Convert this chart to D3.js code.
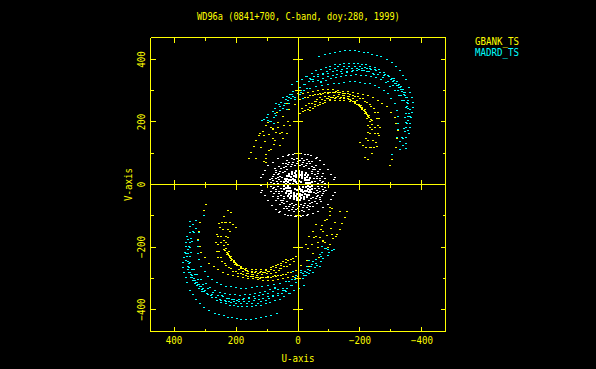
<!DOCTYPE html>
<html><head><meta charset="utf-8"><title>WD96a</title>
<script src="https://cdn.jsdelivr.net/npm/d3@7"></script>
<style>html,body{margin:0;padding:0;background:#000;overflow:hidden}svg{display:block}
text{font-family:"DejaVu Sans Mono",monospace;fill:#ff0}</style></head><body><div id="chart"></div>
<script>
const titleText = "WD96a (0841+700, C-band, doy:280, 1999)";
const xLabel = "U-axis";
const yLabel = "V-axis";
const seriesNames = ["GBANK_TS", "MADRD_TS"];
const majorTicks = [400, 200, -200, -400];
const minorTicks = [300, 100, -100, -300];

// Upper half of the uv coverage, [u, v] in the units of the axes.
// The lower half of the plane is the conjugate (-u, -v) of these tracks.
const madridArcA = [[-68,412],[-86,418],[-102,422],[-118,425],[-134,427],[-153,429],[-167,429],[-183,429],[-197,428],[-212,425],[-226,423],[-240,418],[-255,414],[-269,410],[-287,401],[-302,391],[-317,378],[-328,367],[-339,351],[-349,338],[-358,313],[-363,297],[-369,281],[-371,265],[-371,247],[-368,233],[-365,215],[-362,185],[-358,164],[-350,132],[-349,116]];
const madridArcB = [[-14,337],[-29,348],[-45,358],[-59,365],[-75,370],[-89,376],[-104,380],[-118,384],[-134,386],[-150,387],[-164,388],[-180,388],[-194,388],[-207,386],[-220,384],[-233,380],[-247,376],[-261,369],[-276,361],[-290,351],[-304,339],[-317,326],[-330,311],[-341,296],[-349,281],[-356,262],[-360,241],[-362,219],[-360,198],[-355,174],[-349,153],[-339,126],[-328,112]];
const madridArcC = [[117,207],[96,224],[75,245],[55,265],[35,283],[15,300],[-5,312],[-20,320],[-35,330],[-48,337],[-65,346],[-81,352],[-97,358],[-113,363],[-126,365],[-143,369],[-159,371],[-175,372],[-190,373],[-207,373],[-222,372],[-236,369],[-253,365],[-266,361],[-280,354],[-293,346],[-309,333],[-323,319],[-333,305],[-344,287],[-352,265],[-355,244],[-355,219],[-352,196],[-345,172],[-339,148]];
const madridArcD = [[88,202],[70,222],[50,245],[30,262],[10,280],[-10,295],[-30,310],[-48,330],[-65,335],[-81,340],[-97,346],[-113,349],[-126,354],[-143,358],[-159,359],[-175,362],[-190,365],[-207,365],[-222,363],[-242,358],[-258,352],[-274,343],[-290,330],[-306,319],[-323,303],[-333,287],[-341,271],[-347,247],[-349,228],[-347,201],[-341,180],[-335,153],[-328,139]];
const madridArcE = [[-75,327],[-91,335],[-108,339],[-124,345],[-140,348],[-156,350],[-172,351],[-188,352],[-204,351],[-220,350],[-236,348],[-253,343],[-267,338],[-283,327],[-298,316],[-312,303],[-326,287],[-336,269]];
const madridArcF = [[111,210],[77,216],[59,239],[46,255],[32,271],[16,284],[0,294],[-18,303],[-38,309],[-59,316],[-78,319],[-97,322],[-116,324],[-132,326],[-150,328],[-167,330],[-183,330],[-199,328],[-215,326],[-231,324],[-247,319],[-261,311],[-276,303],[-290,292],[-301,276],[-312,260],[-319,239],[-323,219],[-323,198],[-322,177],[-319,153],[-315,119],[-303,97]];
const madridExtra = [[89,202],[77,197],[75,230],[72,261],[48,281],[25,288],[22,277],[11,274],[18,320],[2,331],[-25,347],[-43,336],[-50,331],[-75,331],[-22,320],[-11,302],[-5,288],[-16,277],[37,240],[43,261],[11,256]];
const madridDense = [[-300,338],[-306,330],[-312,324],[-318,318],[-325,312],[-331,306],[-337,298],[-343,290],[-310,340],[-318,330],[-326,322],[-334,314],[-340,304],[-346,296],[-352,280],[-356,270],[-352,250],[-358,230],[-354,205],[-350,185],[-362,240],[-346,216],[-130,378],[-148,378],[-166,380],[-184,378],[-200,378],[-216,376],[-232,372],[-248,368],[-264,360],[-278,350],[-140,362],[-158,364],[-176,366],[-196,368],[-214,366],[-230,362],[-244,352],[-120,372],[-104,368],[-92,362],[-80,358],[-66,352],[-52,346],[-40,340],[100,215],[82,236],[62,256],[40,272],[20,290],[96,205],[58,250],[30,280]];

const gbankArcA = [[159,85],[143,123],[124,165],[98,201],[69,233],[36,262],[0,292],[-16,294],[-32,297],[-48,300],[-65,303],[-81,305],[-97,305],[-113,305],[-129,303],[-145,300],[-161,298],[-177,296],[-194,294],[-210,290],[-226,286],[-242,279],[-258,271],[-272,262],[-287,251],[-301,233],[-312,215],[-317,196],[-322,174],[-319,148],[-315,119],[-304,80],[-296,61]];
const gbankArcB = [[134,84],[118,121],[107,138],[95,160],[80,182],[65,200],[48,218],[30,240],[10,258],[-8,272],[-24,280],[-40,286],[-56,290],[-72,293],[-88,295],[-104,296],[-120,297],[-136,296],[-152,293],[-168,288],[-184,282],[-200,275],[-216,266],[-232,256],[-246,246],[-258,232],[-263,212],[-265,185],[-263,158],[-255,123],[-236,121],[-240,102],[-226,83]];
const gbankArcC = [[-5,228],[-22,239],[-38,247],[-54,258],[-70,263],[-86,271],[-102,273],[-118,275],[-134,275],[-150,275],[-167,273],[-183,266],[-197,258],[-207,247],[-218,233],[-226,219],[-231,204],[-233,185],[-231,164],[-226,142],[-218,119],[-215,89]];
const gbankArcD = [[-38,239],[-54,251],[-70,258],[-86,264],[-102,269],[-118,269],[-134,269],[-150,269],[-167,267],[-183,262],[-197,254],[-207,241],[-215,228],[-223,212],[-226,190],[-225,169],[-218,148],[-210,126],[-199,137]];
const gbankArcE = [[-32,281],[-48,287],[-65,290],[-81,292],[-97,295],[-113,296],[-129,296],[-145,294],[-161,292],[-177,287],[-194,284],[-210,276],[-223,265],[-237,251],[-247,233],[-255,212],[-259,190],[-258,164],[-253,137],[-244,121]];
const gbankArcF = [[-48,246],[-65,255],[-81,262],[-97,276],[-113,281],[-129,284],[-145,285],[-161,284],[-177,276],[-190,269],[-204,255],[-215,241],[-229,223],[-240,207],[-247,185],[-247,164],[-242,142],[-231,121]];
const gbankExtra = [[153,103],[134,141],[125,157],[113,170],[102,191],[86,185],[81,177],[70,169],[66,184],[44,191],[48,148],[57,127],[78,130],[88,115],[110,159],[81,148],[73,143],[93,110],[102,97],[104,84],[110,76],[104,73],[59,164],[51,167],[37,164],[27,191],[32,202],[-16,234],[-37,261],[-32,240],[-54,267],[-75,288],[-97,291],[-123,300]];
const gbankDense = [[-150,280],[-165,272],[-178,266],[-190,258],[-200,250],[-208,243],[-215,235],[-222,226],[-228,215],[-160,278],[-172,270],[-184,264],[-194,256],[-204,248],[-212,238],[-220,230],[-226,222],[-235,210],[-238,195],[-240,178],[-70,280],[-86,282],[-100,284],[-116,286],[-132,288],[-148,287],[-164,284],[-60,272],[-76,274],[-92,278],[-108,280],[-124,280],[-140,280],[-26,254],[-12,246],[-44,262],[-58,266]];

const centreRing = [[120,-2],[118,24],[113,35],[108,45],[97,61],[81,72],[65,85],[48,91],[32,95],[30,97],[16,98],[11,100],[-5,100],[-11,102],[-24,97],[-32,98],[-41,94],[-57,86],[-61,88],[-70,78],[-83,65],[-97,48],[-108,35],[-116,19],[-118,24]];
const centreScatter = [[88,8],[84,22],[78,34],[72,47],[62,60],[50,70],[36,78],[20,84],[4,86],[-12,85],[-28,80],[-44,74],[-58,63],[-70,50],[-80,36],[-86,20],[-88,4],[76,6],[72,20],[66,32],[58,44],[46,56],[32,66],[16,72],[0,74],[-16,72],[-30,68],[-44,60],[-56,48],[-66,36],[-72,22],[-76,8],[64,4],[62,16],[58,28],[48,40],[36,50],[24,58],[10,62],[-6,62],[-20,60],[-34,54],[-46,44],[-54,32],[-60,20],[-64,6],[82,14],[70,40],[54,52],[28,72],[-8,78],[-38,68],[-52,56],[-76,28],[-82,12],[56,12],[52,24],[42,44],[-46,36],[-52,22],[-56,10],[68,12],[66,24],[60,36],[40,60],[18,66],[2,68],[-14,66],[-26,62],[-50,50],[-62,28],[-70,14],[80,26],[40,70],[-20,78],[-64,44],[90,16],[74,54],[12,80],[-36,76]];
const centreBand = [[46,0],[45,10],[42,20],[36,30],[28,37],[18,43],[8,46],[-4,46],[-14,44],[-25,39],[-33,32],[-40,23],[-45,11],[40,4],[39,13],[35,22],[29,30],[20,36],[10,39],[-2,40],[-12,38],[-22,33],[-30,26],[-36,17],[-39,7],[33,2],[32,11],[28,19],[22,26],[14,30],[5,33],[-5,33],[-14,30],[-22,25],[-28,18],[-32,9],[-33,1],[27,6],[24,16],[17,22],[7,27],[-4,28],[-14,24],[-21,18],[-26,8]];
const centreStreak = [[16,6],[14,14],[9,18],[6,10],[3,4],[-3,14],[-10,12]];

const madrid = [madridArcA, madridArcB, madridArcC, madridArcD, madridArcE, madridArcF, madridExtra, madridDense].flat();
const gbank = [gbankArcA, gbankArcB, gbankArcC, gbankArcD, gbankArcE, gbankArcF, gbankExtra, gbankDense].flat();
const centreSparse = [centreRing, centreScatter].flat();
const centreSolid = [centreBand, centreStreak].flat();
const withConjugate = pts => pts.concat(pts.map(([u, v]) => [-u, -v]));

const svg = d3.select("#chart").append("svg").attr("width", 596).attr("height", 369);
svg.append("rect").attr("width", 596).attr("height", 369).attr("fill", "#000");

const x = d3.scaleLinear().domain([476, -476]).range([150.5, 445.5]);
const y = d3.scaleLinear().domain([-470, 470]).range([331.5, 37.5]);

function plot(points, colour, w, h) {
  svg.append("g").attr("shape-rendering", "crispEdges").selectAll("rect")
    .data(withConjugate(points)).join("rect")
    .attr("x", d => Math.round(x(d[0])) - 1).attr("y", d => Math.round(y(d[1])))
    .attr("width", w).attr("height", h).attr("fill", colour);
}
plot(centreSparse, "#fff", 2, 1);
plot(centreSolid, "#fff", 2, 2);
plot(madrid, "#0ff", 2, 1);
plot(gbank, "#ff0", 2, 1);

function addAxis(gen, dx, dy) {
  const g = svg.append("g").attr("transform", `translate(${dx},${dy})`).call(gen.offset(0));
  g.selectAll("path,line").attr("stroke", "#ff0").attr("stroke-width", 1).attr("shape-rendering", "crispEdges");
  g.select(".domain").attr("fill", "none");
  g.selectAll("text").call(styleLabel);
  return g;
}
function styleLabel(sel, advance = 5.5) {
  sel.attr("font-size", 9.8).attr("font-family", '"DejaVu Sans Mono"').style("fill", "#ff0")
    .attr("lengthAdjust", "spacingAndGlyphs")
    .attr("textLength", function () { return this.textContent.length * advance; });
}
const noLabel = () => "";
const allMajor = [...majorTicks.slice(0, 2), 0, ...majorTicks.slice(2)];
const bottom = y.range()[0], top_ = y.range()[1], left = x.range()[0], right = x.range()[1];

addAxis(d3.axisBottom(x).tickValues(allMajor).tickSize(-5).tickSizeOuter(0), 0, bottom)
  .call(g => g.selectAll("text").attr("y", 12).attr("dy", 0));
addAxis(d3.axisBottom(x).tickValues(minorTicks).tickSize(-3).tickSizeOuter(0).tickFormat(noLabel), 0, bottom);
addAxis(d3.axisTop(x).tickValues(allMajor).tickSize(-5).tickSizeOuter(0).tickFormat(noLabel), 0, top_);
addAxis(d3.axisTop(x).tickValues(minorTicks).tickSize(-3).tickSizeOuter(0).tickFormat(noLabel), 0, top_);
addAxis(d3.axisLeft(y).tickValues(allMajor).tickSize(-5).tickSizeOuter(0), left, 0)
  .call(g => g.selectAll("text").attr("transform", "translate(-5.5,0) rotate(-90)").attr("x", 0).attr("y", 0).attr("dy", 0).attr("text-anchor", "middle"));
addAxis(d3.axisLeft(y).tickValues(minorTicks).tickSize(-3).tickSizeOuter(0).tickFormat(noLabel), left, 0);
addAxis(d3.axisRight(y).tickValues(allMajor).tickSize(-5).tickSizeOuter(0).tickFormat(noLabel), right, 0);
addAxis(d3.axisRight(y).tickValues(minorTicks).tickSize(-3).tickSizeOuter(0).tickFormat(noLabel), right, 0);

// Cross-hair axes through the origin, ticked on both sides.
for (const [ticks, size] of [[majorTicks, 5], [minorTicks, 3]]) {
  addAxis(d3.axisLeft(y).tickValues(ticks).tickSize(size).tickSizeOuter(0).tickFormat(noLabel), x(0), 0);
  addAxis(d3.axisRight(y).tickValues(ticks).tickSize(size).tickSizeOuter(0).tickFormat(noLabel), x(0), 0);
  addAxis(d3.axisBottom(x).tickValues(ticks).tickSize(size).tickSizeOuter(0).tickFormat(noLabel), 0, y(0));
  addAxis(d3.axisTop(x).tickValues(ticks).tickSize(size).tickSizeOuter(0).tickFormat(noLabel), 0, y(0));
}

svg.append("text").attr("x", 197).attr("y", 20).text(titleText).call(styleLabel, 5.2);
svg.append("text").attr("x", 298).attr("y", 362).attr("text-anchor", "middle").text(xLabel).call(styleLabel);
svg.append("text").attr("transform", "translate(131.5,184.5) rotate(-90)").attr("text-anchor", "middle").text(yLabel).call(styleLabel);
svg.append("text").attr("x", 475).attr("y", 45).text(seriesNames[0]).call(styleLabel);
svg.append("text").attr("x", 475).attr("y", 56).text(seriesNames[1]).call(styleLabel).style("fill", "#0ff");
</script></body></html>
